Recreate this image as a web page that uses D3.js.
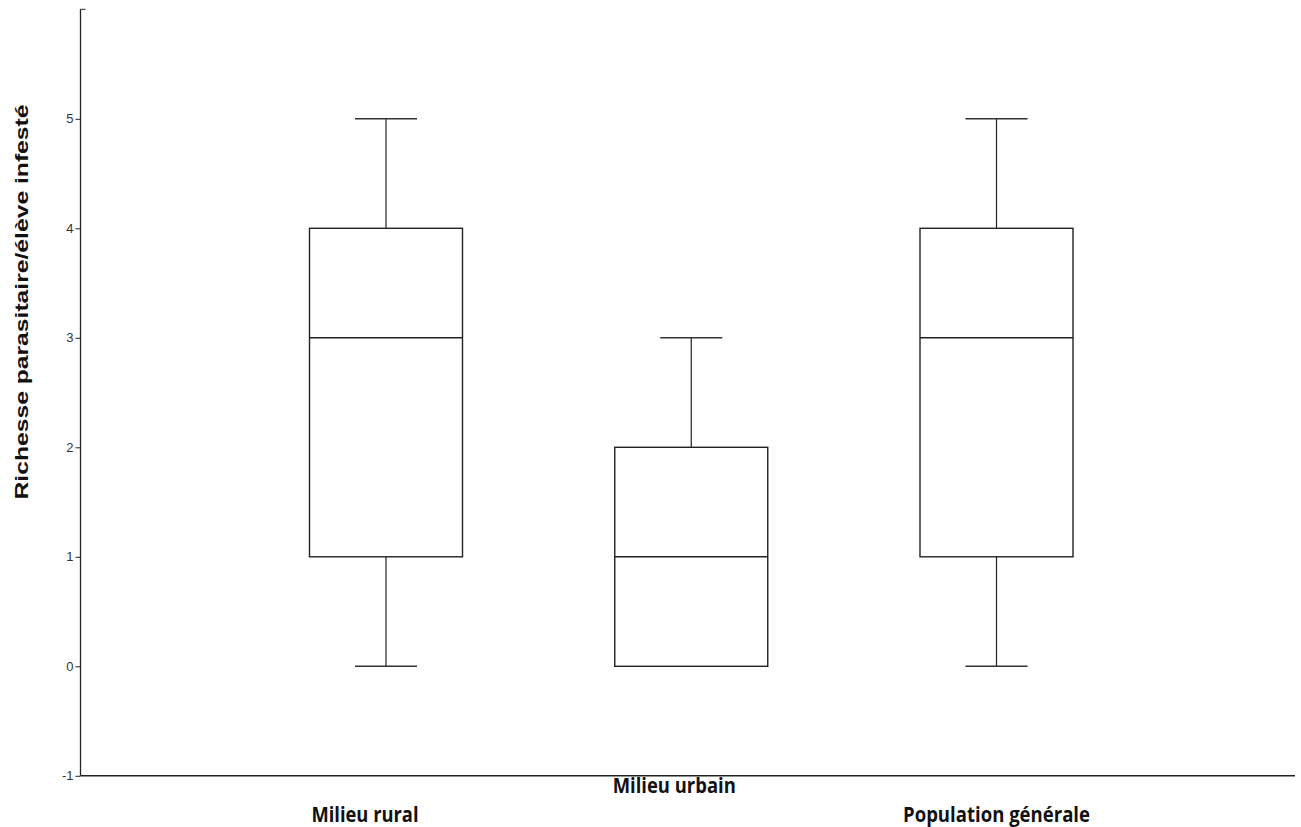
<!DOCTYPE html>
<html>
<head>
<meta charset="utf-8">
<script src="https://cdn.jsdelivr.net/npm/d3@7"></script>
<style>
  body { margin: 0; background: #fff; }
  svg { display: block; }
</style>
</head>
<body>
<svg width="1301" height="827"></svg>
<script>
// groups and their five-number summaries
var categories = ["Milieu rural", "Milieu urbain", "Population générale"];
var mins    = [0, 0, 0];
var q1s     = [1, 0, 1];
var medians = [3, 1, 3];
var q3s     = [4, 2, 4];
var maxs    = [5, 3, 5];
var yTicks  = [-1, 0, 1, 2, 3, 4, 5];
var yTitle  = "Richesse parasitaire/élève infesté";

var data = categories.map((c, i) => ({
    name: c, min: mins[i], q1: q1s[i], median: medians[i], q3: q3s[i], max: maxs[i]
}));

var svg = d3.select("svg");
var axisX = 80.5, axisRight = 1295;

var y = d3.scaleLinear().domain([-1, 6]).range([775.8, 9.3]);
var x = d3.scalePoint().domain(categories).range([386, 996.5]);
var boxW = 153, capW = 62;

// y axis
var yAxis = svg.append("g")
    .attr("transform", `translate(${axisX},0)`)
    .call(d3.axisLeft(y).tickValues(yTicks).tickSize(5).tickPadding(2).tickFormat(d => String(d)));
yAxis.select(".domain").remove();
yAxis.selectAll("line").attr("stroke", "#222");
yAxis.selectAll("text")
    .attr("font-family", "Liberation Sans, Arial, sans-serif")
    .attr("font-size", 13)
    .attr("fill", "#333");
svg.append("line")
    .attr("x1", axisX).attr("x2", axisX)
    .attr("y1", y(6)).attr("y2", y(-1))
    .attr("stroke", "#222").attr("stroke-width", 1.3);
svg.append("line")
    .attr("x1", axisX).attr("x2", axisX + 5)
    .attr("y1", y(6)).attr("y2", y(6))
    .attr("stroke", "#222");

// x axis line
svg.append("line")
    .attr("x1", axisX).attr("x2", axisRight)
    .attr("y1", y(-1)).attr("y2", y(-1))
    .attr("stroke", "#222").attr("stroke-width", 1.6);

// boxes
var g = svg.selectAll("g.box").data(data).enter()
    .append("g").attr("class", "box")
    .attr("transform", d => `translate(${x(d.name)},0)`);

g.filter(d => d.max > d.q3).append("line")
    .attr("y1", d => y(d.max)).attr("y2", d => y(d.q3))
    .attr("stroke", "#222").attr("stroke-width", 1.2);
g.filter(d => d.min < d.q1).append("line")
    .attr("y1", d => y(d.q1)).attr("y2", d => y(d.min))
    .attr("stroke", "#222").attr("stroke-width", 1.2);
g.filter(d => d.max > d.q3).append("line")
    .attr("x1", -capW / 2).attr("x2", capW / 2)
    .attr("y1", d => y(d.max)).attr("y2", d => y(d.max))
    .attr("stroke", "#333").attr("stroke-width", 1.4);
g.filter(d => d.min < d.q1).append("line")
    .attr("x1", -capW / 2).attr("x2", capW / 2)
    .attr("y1", d => y(d.min)).attr("y2", d => y(d.min))
    .attr("stroke", "#333").attr("stroke-width", 1.4);
g.append("rect")
    .attr("x", -boxW / 2).attr("width", boxW)
    .attr("y", d => y(d.q3)).attr("height", d => y(d.q1) - y(d.q3))
    .attr("fill", "#fff").attr("stroke", "#222").attr("stroke-width", 1.4);
g.append("line")
    .attr("x1", -boxW / 2).attr("x2", boxW / 2)
    .attr("y1", d => y(d.median)).attr("y2", d => y(d.median))
    .attr("stroke", "#222").attr("stroke-width", 1.4);

// category labels (the middle one sits higher, as in the original)
var labelW = [107, 123, 187];
svg.selectAll("text.cat").data(categories).enter()
    .append("text").attr("class", "cat")
    .attr("x", (d, i) => x(d) - [21, 17, 0][i])
    .attr("y", (d, i) => i === 1 ? 793 : 822)
    .attr("text-anchor", "middle")
    .attr("font-family", "Open Sans, sans-serif")
    .attr("font-weight", "bold")
    .attr("font-size", 22)
    .attr("textLength", (d, i) => labelW[i])
    .attr("lengthAdjust", "spacingAndGlyphs")
    .attr("fill", "#111")
    .text(d => d);

// y title
svg.append("text")
    .attr("transform", "translate(28,302) rotate(-90)")
    .attr("text-anchor", "middle")
    .attr("font-family", "Liberation Sans, Arial, sans-serif")
    .attr("font-weight", "bold")
    .attr("font-size", 19)
    .attr("textLength", 395)
    .attr("lengthAdjust", "spacingAndGlyphs")
    .attr("fill", "#111")
    .text(yTitle);
</script>
</body>
</html>
